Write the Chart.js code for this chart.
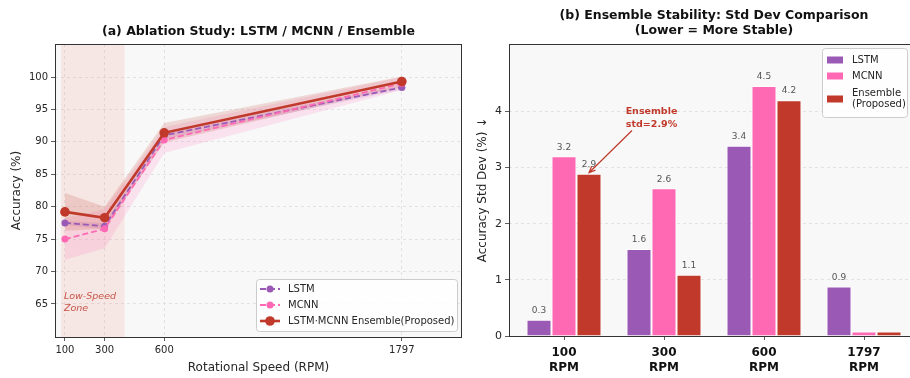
<!DOCTYPE html>
<html>
<head>
<meta charset="utf-8">
<title>Ablation / Stability</title>
<script src="https://cdn.jsdelivr.net/npm/chart.js@4.4.1/dist/chart.umd.min.js"></script>
<style>
    html, body { margin: 0; padding: 0; background: #fff; overflow: hidden; }
    #wrap { position: relative; width: 910px; height: 378px; }
    #accBox { position: absolute; left: 0; top: 0; width: 470px; height: 378px; }
    #stdBox { position: absolute; left: 470px; top: 0; width: 440px; height: 378px; }
</style>
</head>
<body>
<div id="wrap">
    <div id="accBox"><canvas id="accChart" width="470" height="378"></canvas></div>
    <div id="stdBox"><canvas id="stdChart" width="440" height="378"></canvas></div>
</div>
<script>
// ---- (a) accuracy vs speed ----
const speeds = [100, 300, 600, 1797];
const accTicks = [65, 70, 75, 80, 85, 90, 95, 100];
const lstmAcc = [77.5, 77.0, 91.0, 98.4];
const mcnnAcc = [75.0, 76.6, 90.3, 99.0];
const ensAcc = [79.2, 78.3, 91.4, 99.3];
// half-width of the shaded bands
const lstmSpread = [0.3, 0.5, 0.6, 0.3];
const mcnnSpread = [3.2, 3.0, 2.0, 1.0];
const ensSpread = [2.9, 1.7, 1.5, 0.8];
const lowSpeedZone = [80, 400];
const lineLabels = ['LSTM', 'MCNN', 'LSTM·MCNN Ensemble(Proposed)'];

// ---- (b) std dev per speed ----
const rpmGroups = [['100', 'RPM'], ['300', 'RPM'], ['600', 'RPM'], ['1797', 'RPM']];
const stdTicks = [0, 1, 2, 3, 4];
const lstmStd = [0.29, 1.55, 3.39, 0.88];
const mcnnStd = [3.2, 2.63, 4.45, 0.08];
const ensStd = [2.89, 1.09, 4.2, 0.08];
const barLabels = ['LSTM', 'MCNN', ['Ensemble', '(Proposed)']];
const noteText = ['Ensemble', 'std=2.9%'];

const FONT = "'DejaVu Sans', 'Liberation Sans', sans-serif";
const LSTM_C = '#9b59b6';
const MCNN_C = '#ff69b4';
const ENS_C = '#c0392b';
const INK = '#262626';

Chart.defaults.font.family = FONT;
Chart.defaults.color = INK;

function toPoints(values, spread, sign) {
    return speeds.map((s, i) => ({ x: s, y: values[i] + (spread ? sign * spread[i] : 0) }));
}

function bandSets(values, spread, fillColor) {
    return [
        { data: toPoints(values, spread, 1), isBand: true, borderWidth: 0, pointRadius: 0,
          fill: '+1', backgroundColor: fillColor, order: 10 },
        { data: toPoints(values, spread, -1), isBand: true, borderWidth: 0, pointRadius: 0,
          fill: false, order: 10 }
    ];
}

// shared helpers
const plotBackground = {
    id: 'plotBackground',
    beforeDraw(chart) {
        const { ctx, chartArea: a } = chart;
        ctx.save();
        ctx.fillStyle = '#f8f8f8';
        ctx.fillRect(a.left, a.top, a.right - a.left, a.bottom - a.top);
        ctx.restore();
    }
};

function drawSpines(chart, sides) {
    const { ctx, chartArea: a } = chart;
    ctx.save();
    ctx.strokeStyle = '#333';
    ctx.lineWidth = 1;
    ctx.beginPath();
    if (sides.includes('t')) { ctx.moveTo(a.left, a.top + 0.5); ctx.lineTo(a.right, a.top + 0.5); }
    if (sides.includes('b')) { ctx.moveTo(a.left, a.bottom + 0.5); ctx.lineTo(a.right, a.bottom + 0.5); }
    if (sides.includes('l')) { ctx.moveTo(a.left + 0.5, a.top); ctx.lineTo(a.left + 0.5, a.bottom + 1); }
    if (sides.includes('r')) { ctx.moveTo(a.right - 0.5, a.top); ctx.lineTo(a.right - 0.5, a.bottom + 1); }
    ctx.stroke();
    ctx.restore();
}

function legendFrame(ctx, x, y, w, h) {
    ctx.save();
    ctx.fillStyle = 'rgba(255,255,255,0.85)';
    ctx.strokeStyle = '#cccccc';
    ctx.lineWidth = 1;
    ctx.beginPath();
    ctx.roundRect(x + 0.5, y + 0.5, w, h, 3);
    ctx.fill();
    ctx.stroke();
    ctx.restore();
}

// ---- chart (a) ----
const accDecor = {
    id: 'accDecor',
    beforeDatasetsDraw(chart) {
        const { ctx, chartArea: a, scales: { x } } = chart;
        const x0 = x.getPixelForValue(lowSpeedZone[0]);
        const x1 = x.getPixelForValue(lowSpeedZone[1]);
        ctx.save();
        ctx.fillStyle = 'rgba(231, 76, 60, 0.1)';
        ctx.fillRect(x0, a.top, x1 - x0, a.bottom - a.top);
        ctx.restore();
    },
    afterDatasetsDraw(chart) {
        const { ctx, scales: { x, y } } = chart;
        ctx.save();
        ctx.fillStyle = 'rgba(192, 57, 43, 0.85)';
        ctx.font = 'italic 9.5px ' + FONT;
        ctx.textBaseline = 'middle';
        ctx.fillText('Low-Speed', x.getPixelForValue(95), y.getPixelForValue(66.1));
        ctx.fillText('Zone', x.getPixelForValue(95), y.getPixelForValue(64.3));
        ctx.restore();
    },
    afterDraw(chart) {
        const { ctx, chartArea: a } = chart;
        drawSpines(chart, 'tblr');

        // title
        ctx.save();
        ctx.fillStyle = '#111';
        ctx.font = 'bold 12.5px ' + FONT;
        ctx.textAlign = 'center';
        ctx.textBaseline = 'middle';
        ctx.fillText('(a) Ablation Study: LSTM / MCNN / Ensemble', (a.left + a.right) / 2, 31.5);
        ctx.restore();

        // legend, lower right
        const lines = chart.data.datasets.filter(d => !d.isBand);
        const bx = a.right - 206, by = a.bottom - 58;
        legendFrame(ctx, bx, by, 201, 52);
        lines.forEach((ds, i) => {
            const ry = by + 10 + i * 16;
            ctx.save();
            ctx.strokeStyle = ds.borderColor;
            ctx.lineWidth = ds.borderWidth;
            ctx.setLineDash(ds.borderDash || []);
            ctx.beginPath();
            ctx.moveTo(bx + 4, ry);
            ctx.lineTo(bx + 24, ry);
            ctx.stroke();
            ctx.setLineDash([]);
            ctx.fillStyle = ds.borderColor;
            ctx.beginPath();
            ctx.arc(bx + 14, ry, ds.pointRadius, 0, Math.PI * 2);
            ctx.fill();
            ctx.fillStyle = INK;
            ctx.font = '10px ' + FONT;
            ctx.textBaseline = 'middle';
            ctx.fillText(ds.label, bx + 32, ry);
            ctx.restore();
        });
    }
};

new Chart(document.getElementById('accChart'), {
    type: 'line',
    data: {
        datasets: [
            ...bandSets(ensAcc, ensSpread, 'rgba(192, 57, 43, 0.17)'),
            ...bandSets(mcnnAcc, mcnnSpread, 'rgba(255, 105, 180, 0.16)'),
            ...bandSets(lstmAcc, lstmSpread, 'rgba(155, 89, 182, 0.16)'),
            {
                label: lineLabels[0], data: toPoints(lstmAcc), order: 3, fill: false,
                borderColor: LSTM_C, backgroundColor: LSTM_C, borderWidth: 1.8, borderDash: [6, 3],
                pointRadius: 3.5, pointBackgroundColor: LSTM_C, pointBorderWidth: 0
            },
            {
                label: lineLabels[1], data: toPoints(mcnnAcc), order: 2, fill: false,
                borderColor: MCNN_C, backgroundColor: MCNN_C, borderWidth: 1.8, borderDash: [6, 3],
                pointRadius: 3.5, pointBackgroundColor: MCNN_C, pointBorderWidth: 0
            },
            {
                label: lineLabels[2], data: toPoints(ensAcc), order: 1, fill: false,
                borderColor: ENS_C, backgroundColor: ENS_C, borderWidth: 2.6,
                pointRadius: 4.8, pointBackgroundColor: ENS_C, pointBorderWidth: 0
            }
        ]
    },
    options: {
        responsive: false,
        animation: false,
        layout: { padding: { top: 44, right: 8, bottom: 0, left: 0 } },
        plugins: { legend: { display: false }, tooltip: { enabled: false } },
        scales: {
            x: {
                type: 'linear',
                min: 50,
                max: 2100,
                afterBuildTicks: (scale) => { scale.ticks = speeds.map(v => ({ value: v })); },
                afterFit: (scale) => { scale.height = 41; },
                ticks: { font: { size: 10 }, color: INK, padding: 3, maxRotation: 0, callback: (v) => String(v) },
                grid: { color: '#dcdcdc', lineWidth: 0.8, tickColor: '#333', tickLength: 4, tickWidth: 0.8, tickBorderDash: [] },
                border: { display: false, dash: [3, 3] },
                title: { display: true, text: 'Rotational Speed (RPM)', font: { size: 12 }, color: INK, padding: { top: 0, bottom: 3 } }
            },
            y: {
                min: 59.9,
                max: 105.1,
                afterBuildTicks: (scale) => { scale.ticks = accTicks.map(v => ({ value: v })); },
                afterFit: (scale) => { scale.width = 55; },
                ticks: { font: { size: 10 }, color: INK, padding: 3 },
                grid: { color: '#dcdcdc', lineWidth: 0.8, tickColor: '#333', tickLength: 4, tickWidth: 0.8, tickBorderDash: [] },
                border: { display: false, dash: [3, 3] },
                title: { display: true, text: 'Accuracy (%)', font: { size: 12 }, color: INK, padding: { top: 10, bottom: 0 } }
            }
        }
    },
    plugins: [plotBackground, accDecor]
});

// ---- chart (b) ----
const stdDecor = {
    id: 'stdDecor',
    afterDatasetsDraw(chart) {
        const { ctx, scales: { x, y } } = chart;
        // value labels above bars
        ctx.save();
        ctx.fillStyle = '#555';
        ctx.font = '9px ' + FONT;
        ctx.textAlign = 'center';
        ctx.textBaseline = 'middle';
        chart.data.datasets.forEach((ds, di) => {
            chart.getDatasetMeta(di).data.forEach((bar, i) => {
                const v = ds.data[i].y;
                if (v >= 0.1) ctx.fillText(v.toFixed(1), bar.x, bar.y - 9);
            });
        });
        ctx.restore();

        // note + arrow pointing at the ensemble bar at 100 RPM
        const tipX = x.getPixelForValue(0.25), tipY = y.getPixelForValue(ensStd[0]) - 1;
        const fromX = x.getPixelForValue(0.68), fromY = y.getPixelForValue(3.66);
        ctx.save();
        ctx.strokeStyle = ENS_C;
        ctx.lineWidth = 1.2;
        ctx.beginPath();
        ctx.moveTo(fromX, fromY);
        ctx.lineTo(tipX, tipY);
        const ang = Math.atan2(tipY - fromY, tipX - fromX);
        ctx.moveTo(tipX - 7 * Math.cos(ang - 0.4), tipY - 7 * Math.sin(ang - 0.4));
        ctx.lineTo(tipX, tipY);
        ctx.lineTo(tipX - 7 * Math.cos(ang + 0.4), tipY - 7 * Math.sin(ang + 0.4));
        ctx.stroke();
        ctx.fillStyle = ENS_C;
        ctx.font = 'bold 9.5px ' + FONT;
        ctx.textAlign = 'center';
        ctx.textBaseline = 'middle';
        const nx = x.getPixelForValue(0.875);
        ctx.fillText(noteText[0], nx, y.getPixelForValue(4.0));
        ctx.fillText(noteText[1], nx, y.getPixelForValue(3.77));
        ctx.restore();
    },
    afterDraw(chart) {
        const { ctx, chartArea: a, scales: { x } } = chart;
        drawSpines(chart, 'tbl');

        ctx.save();
        ctx.fillStyle = '#111';
        ctx.font = 'bold 12.5px ' + FONT;
        ctx.textAlign = 'center';
        ctx.textBaseline = 'middle';
        const cx = x.getPixelForValue(1.5);
        ctx.fillText('(b) Ensemble Stability: Std Dev Comparison', cx, 16);
        ctx.fillText('(Lower = More Stable)', cx, 31);
        ctx.restore();

        // legend, upper right
        const bx = a.right - 88, by = 48;
        legendFrame(ctx, bx, by, 85, 69);
        const rows = [12, 28, 51];
        chart.data.datasets.forEach((ds, i) => {
            const ry = by + rows[i];
            ctx.save();
            ctx.fillStyle = ds.backgroundColor;
            ctx.fillRect(bx + 5, ry - 3.5, 16, 7);
            ctx.fillStyle = INK;
            ctx.font = '10px ' + FONT;
            ctx.textBaseline = 'middle';
            const text = Array.isArray(ds.label) ? ds.label : [ds.label];
            text.forEach((t, k) => ctx.fillText(t, bx + 30, ry + (k - (text.length - 1) / 2) * 11));
            ctx.restore();
        });
    }
};

function barPoints(values) {
    return values.map((v, i) => ({ x: i, y: v }));
}

new Chart(document.getElementById('stdChart'), {
    type: 'bar',
    data: {
        datasets: [
            { label: barLabels[0], data: barPoints(lstmStd), backgroundColor: LSTM_C, borderColor: '#ffffff', borderWidth: 1 },
            { label: barLabels[1], data: barPoints(mcnnStd), backgroundColor: MCNN_C, borderColor: '#ffffff', borderWidth: 1 },
            { label: barLabels[2], data: barPoints(ensStd), backgroundColor: ENS_C, borderColor: '#ffffff', borderWidth: 1 }
        ]
    },
    options: {
        responsive: false,
        animation: false,
        categoryPercentage: 0.75,
        barPercentage: 1.0,
        layout: { padding: { top: 44, right: 0, bottom: 0, left: 0 } },
        plugins: { legend: { display: false }, tooltip: { enabled: false } },
        scales: {
            x: {
                type: 'linear',
                offset: false,
                min: -0.55,
                max: 3.46,
                afterBuildTicks: (scale) => { scale.ticks = rpmGroups.map((_, i) => ({ value: i })); },
                afterFit: (scale) => { scale.height = 42; },
                ticks: {
                    font: { size: 12, weight: 'bold', lineHeight: 1.25 }, color: '#111', padding: 5, maxRotation: 0,
                    callback: (v) => rpmGroups[v]
                },
                grid: { offset: false, drawOnChartArea: false, tickColor: '#333', tickLength: 4, tickWidth: 0.8 },
                border: { display: false }
            },
            y: {
                min: 0,
                max: 5.2,
                afterBuildTicks: (scale) => { scale.ticks = stdTicks.map(v => ({ value: v })); },
                afterFit: (scale) => { scale.width = 39; },
                ticks: { font: { size: 11 }, color: INK, padding: 3 },
                grid: { color: '#dcdcdc', lineWidth: 0.8, tickColor: '#333', tickLength: 4, tickWidth: 0.8, tickBorderDash: [] },
                border: { display: false, dash: [3, 3] },
                title: { display: true, text: 'Accuracy Std Dev (%) ↓', font: { size: 12 }, color: INK, padding: { top: 6, bottom: 0 } }
            }
        }
    },
    plugins: [plotBackground, stdDecor]
});
</script>
</body>
</html>
